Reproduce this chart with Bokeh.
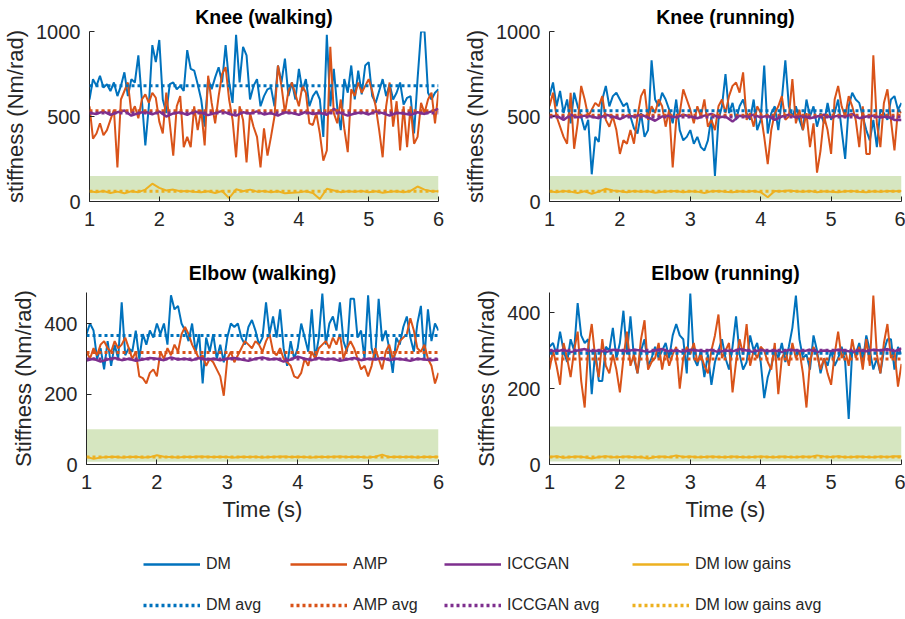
import numpy as np
from bokeh.plotting import figure
from bokeh.models import Range1d, Span, BoxAnnotation, Legend, LegendItem, FixedTicker
from bokeh.layouts import column, row
from bokeh.embed import file_html
from bokeh.resources import INLINE

# ---------------- data ----------------
T_FINE = np.round(1.0 + 0.05 * np.arange(101), 2)    # 1.00 .. 6.00
T_COARSE = np.round(1.0 + 0.1 * np.arange(51), 2)    # 1.0 .. 6.0

X_TICKS = [1, 2, 3, 4, 5, 6]
KNEE_TICKS = [0, 500, 1000]
ELBOW_TICKS = [0, 200, 400]

KNEE_BAND = (12, 150)
ELBOW_BAND = (8, 100)

# Knee (walking)
KW_DM = [600, 720, 680, 740, 670, 690, 650, 700, 620, 680, 760, 620, 720, 700, 860, 600, 330, 560, 920, 820,
         950, 600, 520, 690, 700, 660, 680, 650, 890, 780, 770, 690, 600, 440, 720, 660, 730, 790, 700, 920,
         700, 580, 980, 700, 910, 860, 600, 680, 720, 560, 620, 660, 670, 560, 800, 700, 840, 620, 700, 600,
         780, 650, 720, 560, 620, 650, 600, 380, 980, 560, 780, 550, 420, 720, 640, 800, 600, 770, 630, 800,
         820, 620, 580, 650, 720, 620, 690, 600, 640, 700, 570, 610, 620, 400, 720, 1000, 1000, 640, 600, 640,
         660]
KW_AMP = [560, 370, 400, 460, 390, 420, 480, 540, 200, 600, 650, 700, 520, 560, 490, 600, 630, 580, 640, 610,
          470, 400, 640, 460, 270, 560, 620, 320, 380, 320, 560, 420, 540, 330, 740, 580, 460, 620, 750, 790,
          600, 480, 260, 560, 480, 230, 520, 440, 380, 200, 430, 270, 380, 500, 800, 680, 520, 650, 700, 630,
          560, 680, 640, 460, 450, 520, 400, 240, 300, 910, 520, 460, 600, 430, 290, 660, 620, 700, 640, 680,
          720, 650, 560, 420, 260, 560, 700, 440, 590, 300, 560, 320, 560, 340, 380, 580, 520, 600, 640, 460,
          650]
KW_ICC = [520, 515, 530, 510, 525, 535, 505, 520, 528, 512,
          530, 500, 518, 525, 510, 530, 522, 508, 520, 532,
          515, 505, 525, 518, 530, 512, 520, 505, 525, 520,
          510, 528, 515, 522, 510, 545, 520, 505, 518, 525,
          512, 530, 520, 505, 522, 518, 510, 525, 515, 530,
          545]
KW_LOW = [60, 55, 62, 50, 58, 48, 60, 55, 70, 105,
          80, 65, 70, 60, 62, 58, 55, 60, 50, 62,
          20, 72, 60, 70, 58, 62, 55, 60, 48, 52,
          55, 60, 50, 15, 75, 65, 55, 60, 58, 62,
          55, 60, 52, 58, 60, 55, 62, 88, 70, 60,
          60]
KW_AVG = {"DM": 681, "AMP": 534, "ICCGAN": 521, "LOW": 60}

# Knee (running)
KR_DM = [620, 700, 560, 650, 520, 600, 460, 640, 560, 500, 420, 480, 160, 380, 350, 600, 680, 560, 620, 640,
         600, 560, 580, 500, 430, 400, 520, 380, 420, 830, 600, 560, 640, 600, 540, 460, 600, 420, 360, 380,
         420, 340, 380, 320, 300, 360, 500, 150, 480, 560, 750, 520, 580, 480, 560, 600, 520, 480, 600, 420,
         480, 800, 400, 520, 560, 420, 600, 830, 560, 500, 560, 480, 420, 600, 500, 560, 440, 520, 460, 580,
         480, 520, 600, 420, 250, 560, 640, 600, 580, 500, 420, 360, 480, 320, 540, 520, 480, 600, 620, 540,
         580]
KR_AMP = [560, 640, 500, 440, 380, 340, 640, 310, 460, 680, 600, 500, 540, 580, 560, 620, 480, 440, 500, 420,
          280, 360, 340, 420, 340, 500, 620, 660, 480, 560, 520, 600, 560, 440, 540, 200, 480, 520, 660, 600,
          540, 460, 560, 500, 600, 440, 480, 420, 560, 600, 520, 620, 680, 700, 640, 760, 480, 520, 440, 560,
          520, 380, 220, 420, 520, 560, 620, 480, 500, 720, 460, 540, 420, 520, 320, 460, 170, 300, 500, 420,
          280, 600, 680, 560, 500, 620, 560, 480, 320, 560, 280, 280, 860, 460, 320, 580, 660, 480, 300, 540,
          520]
KR_ICC = [500, 505, 480, 510, 495, 505, 500, 490, 510, 500,
          485, 505, 500, 510, 495, 475, 500, 505, 495, 510,
          500, 490, 505, 515, 495, 500, 470, 505, 500, 510,
          495, 505, 480, 500, 510, 495, 505, 490, 500, 510,
          495, 505, 500, 515, 490, 500, 505, 495, 500, 480,
          480]
KR_LOW = [60, 55, 62, 58, 50, 60, 45, 58, 75, 65,
          60, 55, 62, 58, 60, 52, 58, 60, 62, 55,
          60, 58, 50, 60, 62, 58, 55, 60, 58, 62,
          55, 25, 62, 60, 65, 60, 58, 62, 55, 60,
          58, 55, 60, 62, 58, 55, 60, 58, 62, 60,
          62]
KR_AVG = {"DM": 534, "AMP": 508, "ICCGAN": 497, "LOW": 60}

# Elbow (walking)
EW_DM = [370, 400, 380, 300, 330, 270, 350, 280, 340, 300, 460, 310, 330, 320, 380, 300, 370, 340, 380, 360,
         400, 370, 400, 340, 480, 440, 450, 400, 380, 350, 400, 320, 370, 230, 360, 320, 370, 300, 340, 290,
         360, 400, 390, 400, 360, 340, 390, 410, 380, 340, 360, 460, 370, 420, 360, 440, 330, 280, 350, 300,
         330, 400, 360, 320, 440, 300, 360, 485, 340, 400, 420, 380, 460, 350, 320, 470, 470, 360, 380, 300,
         480, 330, 300, 470, 350, 380, 330, 260, 360, 340, 390, 420, 360, 320, 400, 450, 300, 440, 350, 400,
         380]
EW_AMP = [320, 300, 330, 310, 340, 350, 330, 320, 350, 330, 340, 360, 330, 300, 320, 250, 245, 230, 260, 270,
          250, 320, 300, 330, 310, 340, 320, 370, 390, 370, 340, 320, 300, 310, 280, 300, 290, 270, 250, 195,
          300, 320, 290, 310, 330, 350, 340, 330, 350, 340, 320, 350, 370, 320, 310, 330, 300, 290, 280, 250,
          245, 260, 300, 280, 320, 300, 330, 340, 350, 330, 360, 340, 370, 300, 330, 350, 330, 300, 270, 280,
          250, 280, 330, 300, 270, 320, 340, 300, 320, 350, 360, 370, 415, 380, 330, 320, 340, 300, 280, 230,
          260]
EW_ICC = [295, 300, 292, 298, 302, 296, 300, 294, 298, 302,
          300, 296, 304, 298, 300, 296, 302, 298, 300, 296,
          300, 302, 298, 294, 300, 304, 298, 300, 292, 298,
          306, 300, 296, 302, 298, 300, 294, 298, 302, 296,
          300, 298, 302, 296, 300, 298, 294, 300, 298, 296,
          298]
EW_LOW = [22, 16, 20, 21, 22, 20, 21, 22, 20, 21,
          26, 22, 21, 20, 22, 21, 23, 22, 21, 22,
          21, 20, 22, 21, 22, 20, 21, 22, 23, 21,
          22, 21, 20, 22, 21, 22, 23, 21, 22, 21,
          20, 22, 28, 21, 22, 21, 22, 20, 22, 21,
          22]
EW_AVG = {"DM": 366, "AMP": 318, "ICCGAN": 299, "LOW": 21}
EW_TOP = 488

# Elbow (running)
ER_DM = [310, 320, 290, 350, 300, 270, 330, 300, 425, 340, 320, 330, 185, 300, 220, 220, 310, 300, 360, 280,
         320, 405, 290, 390, 280, 240, 300, 330, 260, 280, 310, 280, 300, 320, 280, 340, 370, 340, 330, 240,
         450, 280, 260, 300, 230, 290, 210, 270, 300, 330, 280, 250, 310, 390, 290, 250, 270, 340, 300, 320,
         270, 175, 230, 260, 300, 280, 320, 270, 310, 360, 445, 330, 280, 290, 250, 340, 300, 240, 280, 260,
         300, 260, 280, 310, 270, 120, 300, 290, 320, 270, 340, 300, 250, 280, 240, 300, 330, 330, 250, 310,
         290]
ER_AMP = [250, 300, 260, 210, 320, 280, 230, 300, 350, 220, 150, 310, 370, 280, 230, 330, 260, 240, 290, 250,
          190, 280, 350, 260, 290, 240, 330, 380, 250, 270, 280, 320, 250, 300, 260, 290, 310, 200, 280, 310,
          290, 320, 270, 290, 260, 240, 300, 340, 395, 280, 300, 320, 190, 270, 330, 290, 370, 260, 300, 280,
          310, 300, 270, 250, 320, 185, 280, 300, 260, 320, 280, 300, 240, 150, 270, 310, 290, 250, 280, 240,
          210, 290, 350, 280, 300, 260, 330, 280, 310, 250, 330, 260, 445, 290, 240, 320, 370, 280, 300, 205,
          265]
ER_ICC = [300, 298, 302, 296, 300, 304, 298, 300, 296, 302,
          300, 298, 302, 300, 296, 300, 304, 298, 300, 296,
          302, 300, 298, 302, 296, 300, 298, 304, 300, 296,
          302, 298, 300, 296, 302, 300, 298, 302, 296, 300,
          298, 302, 300, 296, 300, 298, 302, 300, 304, 298,
          306]
ER_LOW = [20, 22, 18, 20, 21, 19, 16, 20, 22, 19,
          20, 21, 19, 20, 16, 20, 21, 19, 24, 20,
          21, 19, 20, 21, 20, 19, 21, 20, 19, 20,
          21, 20, 19, 21, 20, 19, 21, 20, 24, 21,
          20, 22, 19, 20, 21, 20, 19, 21, 20, 22,
          21]
ER_AVG = {"DM": 293, "AMP": 278, "ICCGAN": 301, "LOW": 20}
ER_TOP = 453

SERIES_NAMES = ["DM", "AMP", "ICCGAN", "DM low gains"]

# ---------------- styling ----------------
C_DM, C_AMP, C_ICC, C_LOW = "#0072BD", "#D95319", "#7E2F8E", "#EDB120"
BAND_COLOR = "#77AC30"
FONT = "Liberation Sans"
AX_COLOR = "#262626"


def make_panel(title, ylabel, xlabel, dm, amp, icc, low, avg, ytop, yticks, band,
               width, height, bl, br, bt, bb, title_standoff):
    p = figure(width=width, height=height, x_range=Range1d(1, 6), y_range=Range1d(0, ytop),
               output_backend="svg", toolbar_location=None,
               min_border_left=bl, min_border_right=br, min_border_top=bt, min_border_bottom=bb)
    p.title.text = title
    p.title.align = "center"
    p.title.text_font = FONT
    p.title.text_font_size = "19.5px"
    p.title.text_font_style = "bold"
    p.title.text_color = "black"
    p.title.standoff = title_standoff
    p.xgrid.visible = False
    p.ygrid.visible = False
    p.outline_line_color = None
    p.background_fill_color = "white"
    p.border_fill_color = "white"

    p.xaxis.ticker = FixedTicker(ticks=X_TICKS)
    p.yaxis.ticker = FixedTicker(ticks=yticks)
    for ax in (p.xaxis[0], p.yaxis[0]):
        ax.axis_line_color = AX_COLOR
        ax.axis_line_width = 1
        ax.major_tick_line_color = AX_COLOR
        ax.major_tick_in = 5
        ax.major_tick_out = 0
        ax.minor_tick_line_color = None
        ax.major_label_text_font = FONT
        ax.major_label_text_font_size = "20px"
        ax.major_label_text_color = AX_COLOR
        ax.axis_label_text_font = FONT
        ax.axis_label_text_font_size = "22px"
        ax.axis_label_text_font_style = "normal"
        ax.axis_label_text_color = AX_COLOR
    p.yaxis.axis_label = ylabel
    p.yaxis.major_label_standoff = 9
    p.yaxis.axis_label_standoff = 5
    p.xaxis.major_label_standoff = 10
    p.xaxis.axis_label_standoff = 5
    if xlabel:
        p.xaxis.axis_label = xlabel

    p.add_layout(BoxAnnotation(left=1, right=6, bottom=band[0], top=band[1],
                               fill_color=BAND_COLOR, fill_alpha=0.3, line_color=None,
                               level="underlay"))

    p.line(T_FINE, dm, line_color=C_DM, line_width=2)
    p.line(T_FINE, amp, line_color=C_AMP, line_width=2)
    p.line(T_COARSE, icc, line_color=C_ICC, line_width=2.5)
    p.line(T_COARSE, low, line_color=C_LOW, line_width=2)

    for key, c in (("DM", C_DM), ("AMP", C_AMP), ("ICCGAN", C_ICC), ("LOW", C_LOW)):
        p.add_layout(Span(location=avg[key], dimension="width", line_color=c,
                          line_width=3, line_dash="3 3"))
    return p


p1 = make_panel("Knee (walking)", "stiffness (Nm/rad)", None, KW_DM, KW_AMP, KW_ICC, KW_LOW, KW_AVG,
                1000, KNEE_TICKS, KNEE_BAND, 450, 245, 86, 12, 31, 44, 7)
p2 = make_panel("Knee (running)", "stiffness (Nm/rad)", None, KR_DM, KR_AMP, KR_ICC, KR_LOW, KR_AVG,
                1000, KNEE_TICKS, KNEE_BAND, 455, 245, 99, 4, 31, 44, 7)
p3 = make_panel("Elbow (walking)", "Stiffness (Nm/rad)", "Time (s)", EW_DM, EW_AMP, EW_ICC, EW_LOW, EW_AVG,
                EW_TOP, ELBOW_TICKS, ELBOW_BAND, 450, 285, 86, 12, 47, 66, 17)
p4 = make_panel("Elbow (running)", "Stiffness (Nm/rad)", "Time (s)", ER_DM, ER_AMP, ER_ICC, ER_LOW, ER_AVG,
                ER_TOP, ELBOW_TICKS, ELBOW_BAND, 455, 285, 99, 4, 47, 66, 17)

# ---------------- legend strip ----------------
lf = figure(width=905, height=89, x_range=Range1d(0, 1), y_range=Range1d(0, 1),
            output_backend="svg", toolbar_location=None, min_border=0)
lf.xaxis.visible = False
lf.yaxis.visible = False
lf.xgrid.visible = False
lf.ygrid.visible = False
lf.outline_line_color = None

legend_x = [143, 290, 444, 632]
for name, c, lx in zip(SERIES_NAMES, [C_DM, C_AMP, C_ICC, C_LOW], legend_x):
    r_solid = lf.line([np.nan], [np.nan], line_color=c, line_width=2.5)
    r_avg = lf.line([np.nan], [np.nan], line_color=c, line_width=3.5, line_dash="3 3")
    leg = Legend(items=[LegendItem(label=name, renderers=[r_solid]),
                        LegendItem(label=name + " avg", renderers=[r_avg])],
                 location=(lx, 5), orientation="vertical",
                 glyph_width=57, glyph_height=16, label_height=16, label_standoff=6,
                 spacing=23, padding=0, margin=0, border_line_color=None,
                 background_fill_alpha=0, label_text_font=FONT, label_text_font_size="16px",
                 label_text_color=AX_COLOR)
    lf.add_layout(leg)

layout = column(row(p1, p2), row(p3, p4), lf)
open("out.html", "w").write(file_html(layout, INLINE))
